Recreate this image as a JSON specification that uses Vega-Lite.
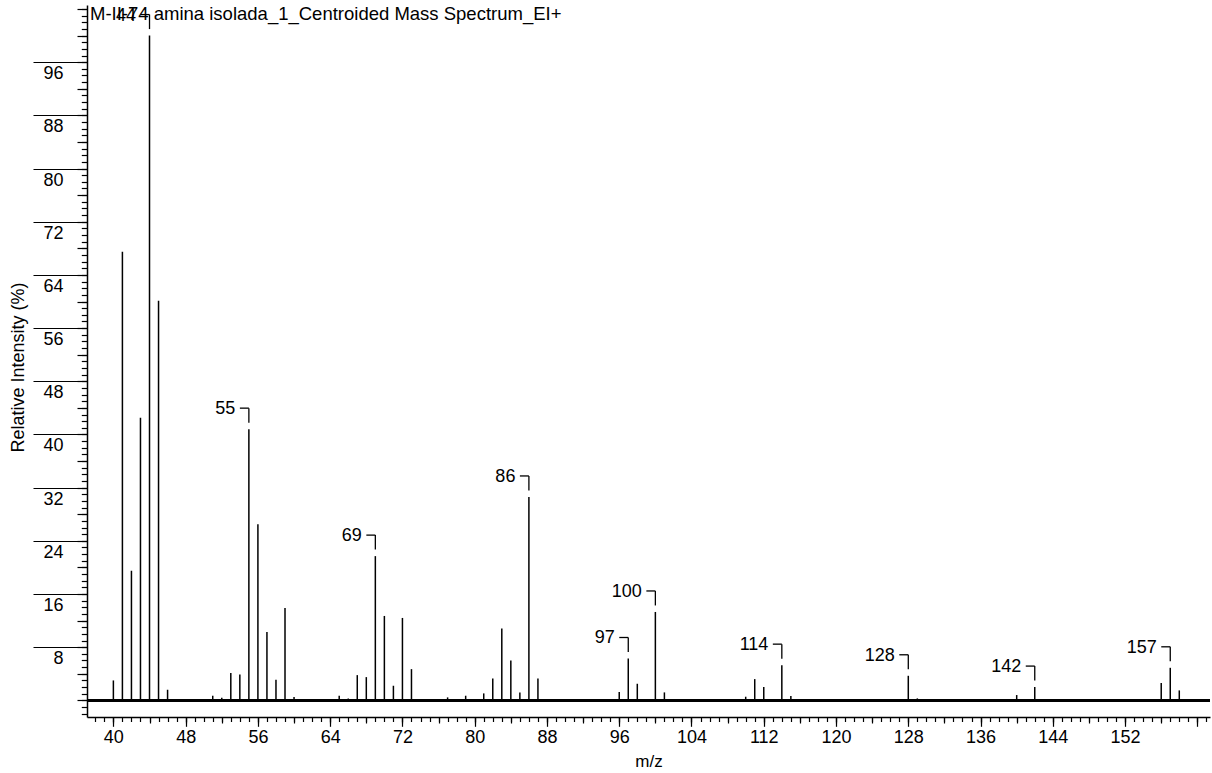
{
  "$schema": "https://vega.github.io/schema/vega-lite/v6.json",
  "autosize": {"type": "none"},
  "padding": {"left": 87, "top": 5, "right": 2, "bottom": 56},
  "width": 1123,
  "height": 712,
  "background": "white",
  "title": {
    "text": "M-II-74 amina isolada_1_Centroided Mass Spectrum_EI+",
    "anchor": "start",
    "frame": "group",
    "orient": "top",
    "offset": -18,
    "dx": 3,
    "fontSize": 18.5,
    "fontWeight": "normal",
    "color": "black",
    "font": "Liberation Sans"
  },
  "data": {
    "values": [
      {"mz": 40, "intensity": 3.0, "lab": ""},
      {"mz": 41, "intensity": 67.5, "lab": ""},
      {"mz": 42, "intensity": 19.5, "lab": ""},
      {"mz": 43, "intensity": 42.5, "lab": ""},
      {"mz": 44, "intensity": 100, "lab": "44"},
      {"mz": 45, "intensity": 60.1, "lab": ""},
      {"mz": 46, "intensity": 1.6, "lab": ""},
      {"mz": 51, "intensity": 0.7, "lab": ""},
      {"mz": 52, "intensity": 0.4, "lab": ""},
      {"mz": 53, "intensity": 4.1, "lab": ""},
      {"mz": 54, "intensity": 3.9, "lab": ""},
      {"mz": 55, "intensity": 40.8, "lab": "55"},
      {"mz": 56, "intensity": 26.5, "lab": ""},
      {"mz": 57, "intensity": 10.3, "lab": ""},
      {"mz": 58, "intensity": 3.1, "lab": ""},
      {"mz": 59, "intensity": 13.9, "lab": ""},
      {"mz": 60, "intensity": 0.5, "lab": ""},
      {"mz": 65, "intensity": 0.7, "lab": ""},
      {"mz": 66, "intensity": 0.3, "lab": ""},
      {"mz": 67, "intensity": 3.8, "lab": ""},
      {"mz": 68, "intensity": 3.5, "lab": ""},
      {"mz": 69, "intensity": 21.7, "lab": "69"},
      {"mz": 70, "intensity": 12.7, "lab": ""},
      {"mz": 71, "intensity": 2.2, "lab": ""},
      {"mz": 72, "intensity": 12.4, "lab": ""},
      {"mz": 73, "intensity": 4.7, "lab": ""},
      {"mz": 77, "intensity": 0.45, "lab": ""},
      {"mz": 79, "intensity": 0.7, "lab": ""},
      {"mz": 81, "intensity": 1.05, "lab": ""},
      {"mz": 82, "intensity": 3.3, "lab": ""},
      {"mz": 83, "intensity": 10.8, "lab": ""},
      {"mz": 84, "intensity": 6.0, "lab": ""},
      {"mz": 85, "intensity": 1.2, "lab": ""},
      {"mz": 86, "intensity": 30.6, "lab": "86"},
      {"mz": 87, "intensity": 3.3, "lab": ""},
      {"mz": 96, "intensity": 1.25, "lab": ""},
      {"mz": 97, "intensity": 6.3, "lab": "97"},
      {"mz": 98, "intensity": 2.5, "lab": ""},
      {"mz": 100, "intensity": 13.3, "lab": "100"},
      {"mz": 101, "intensity": 1.2, "lab": ""},
      {"mz": 110, "intensity": 0.55, "lab": ""},
      {"mz": 111, "intensity": 3.2, "lab": ""},
      {"mz": 112, "intensity": 2.0, "lab": ""},
      {"mz": 114, "intensity": 5.3, "lab": "114"},
      {"mz": 115, "intensity": 0.65, "lab": ""},
      {"mz": 128, "intensity": 3.7, "lab": "128"},
      {"mz": 129, "intensity": 0.3, "lab": ""},
      {"mz": 140, "intensity": 0.8, "lab": ""},
      {"mz": 142, "intensity": 2.0, "lab": "142"},
      {"mz": 156, "intensity": 2.6, "lab": ""},
      {"mz": 157, "intensity": 4.9, "lab": "157"},
      {"mz": 158, "intensity": 1.5, "lab": ""}
    ]
  },
  "resolve": {"axis": {"x": "independent", "y": "independent"}},
  "layer": [
    {
      "mark": {"type": "rule", "color": "black", "strokeWidth": 1.5},
      "encoding": {
        "x": {
          "field": "mz", "type": "quantitative",
          "scale": {"domain": [37.08, 161.4], "nice": false, "zero": false},
          "axis": {
            "orient": "bottom",
            "values": [40, 48, 56, 64, 72, 80, 88, 96, 104, 112, 120, 128, 136, 144, 152, 160],
            "labelExpr": "datum.value >= 160 ? '' : datum.label",
            "tickSize": 9.3, "tickWidth": 1.2, "tickColor": "black",
            "domain": true, "domainColor": "black", "domainWidth": 1.5,
            "grid": false,
            "labelFontSize": 18, "labelColor": "black", "labelPadding": 2,
            "labelFlush": false, "labelOverlap": false,
            "title": "m/z", "titleFontSize": 17, "titleFontWeight": "normal", "titleColor": "black",
            "titlePadding": 7
          }
        },
        "y": {
          "field": "intensity", "type": "quantitative",
          "scale": {"domain": [-2.5, 104.6], "nice": false, "zero": false},
          "axis": {
            "orient": "left",
            "values": [8, 16, 24, 32, 40, 48, 56, 64, 72, 80, 88, 96],
            "tickSize": 54, "tickWidth": 1.2, "tickColor": "black",
            "domain": true, "domainColor": "black", "domainWidth": 1.5,
            "grid": false,
            "labelFontSize": 18, "labelColor": "black",
            "labelBaseline": "top", "labelAlign": "right",
            "labelPadding": -30, "labelOffset": 2.5,
            "labelFlush": false, "labelOverlap": false, "labelBound": false,
            "title": "Relative Intensity (%)", "titleFontSize": 18, "titleFontWeight": "normal", "titleColor": "black",
            "titlePadding": 5, "titleY": 362
          }
        },
        "y2": {"datum": 0}
      }
    },
    {
      "mark": {"type": "point", "opacity": 0},
      "encoding": {
        "x": {
          "field": "mz", "type": "quantitative",
          "axis": {
            "orient": "bottom",
            "values": [38,39,40,41,42,43,44,45,46,47,48,49,50,51,52,53,54,55,56,57,58,59,60,61,62,63,64,65,66,67,68,69,70,71,72,73,74,75,76,77,78,79,80,81,82,83,84,85,86,87,88,89,90,91,92,93,94,95,96,97,98,99,100,101,102,103,104,105,106,107,108,109,110,111,112,113,114,115,116,117,118,119,120,121,122,123,124,125,126,127,128,129,130,131,132,133,134,135,136,137,138,139,140,141,142,143,144,145,146,147,148,149,150,151,152,153,154,155,156,157,158,159,160,161],
            "tickSize": 4.5, "tickWidth": 1.2, "tickColor": "black",
            "domain": false, "grid": false, "labels": false, "title": null
          }
        },
        "y": {
          "field": "intensity", "type": "quantitative",
          "axis": {
            "orient": "left",
            "values": [-2,-1,0,1,2,3,4,5,6,7,8,9,10,11,12,13,14,15,16,17,18,19,20,21,22,23,24,25,26,27,28,29,30,31,32,33,34,35,36,37,38,39,40,41,42,43,44,45,46,47,48,49,50,51,52,53,54,55,56,57,58,59,60,61,62,63,64,65,66,67,68,69,70,71,72,73,74,75,76,77,78,79,80,81,82,83,84,85,86,87,88,89,90,91,92,93,94,95,96,97,98,99,100,101,102,103,104],
            "tickSize": 5.7, "tickWidth": 1.2, "tickColor": "black",
            "domain": false, "grid": false, "labels": false, "title": null
          }
        }
      }
    },
    {
      "mark": {"type": "point", "opacity": 0},
      "encoding": {
        "x": {
          "field": "mz", "type": "quantitative",
          "axis": {
            "orient": "bottom",
            "values": [40,44,48,52,56,60,64,68,72,76,80,84,88,92,96,100,104,108,112,116,120,124,128,132,136,140,144,148,152,156,160],
            "tickSize": 6, "tickWidth": 1.2, "tickColor": "black",
            "domain": false, "grid": false, "labels": false, "title": null
          }
        },
        "y": {
          "field": "intensity", "type": "quantitative",
          "axis": {
            "orient": "left",
            "values": [0,4,8,12,16,20,24,28,32,36,40,44,48,52,56,60,64,68,72,76,80,84,88,92,96,100,104],
            "tickSize": 10, "tickWidth": 1.2, "tickColor": "black",
            "domain": false, "grid": false, "labels": false, "title": null
          }
        }
      }
    },
    {
      "mark": {"type": "rule", "color": "black", "strokeWidth": 1.5},
      "encoding": {
        "y": {"datum": 0, "type": "quantitative", "axis": null}
      }
    },
    {
      "transform": [{"filter": "datum.lab != ''"}],
      "mark": {"type": "rule", "color": "black", "strokeWidth": 1.3, "xOffset": -9, "x2Offset": 0, "yOffset": -21},
      "encoding": {
        "x": {"field": "mz", "type": "quantitative", "axis": null},
        "x2": {"field": "mz"},
        "y": {"field": "intensity", "type": "quantitative", "axis": null}
      }
    },
    {
      "transform": [{"filter": "datum.lab != ''"}],
      "mark": {"type": "rule", "color": "black", "strokeWidth": 1.3, "yOffset": -21, "y2Offset": -6.5},
      "encoding": {
        "x": {"field": "mz", "type": "quantitative", "axis": null},
        "y": {"field": "intensity", "type": "quantitative", "axis": null},
        "y2": {"field": "intensity"}
      }
    },
    {
      "transform": [{"filter": "datum.lab != ''"}],
      "mark": {"type": "text", "align": "right", "baseline": "alphabetic", "dx": -13.5, "dy": -15, "fontSize": 18, "color": "black", "font": "Liberation Sans"},
      "encoding": {
        "x": {"field": "mz", "type": "quantitative", "axis": null},
        "y": {"field": "intensity", "type": "quantitative", "axis": null},
        "text": {"field": "lab"}
      }
    }
  ],
  "config": {
    "font": "Liberation Sans",
    "view": {"stroke": null},
    "axis": {"labelFont": "Liberation Sans", "titleFont": "Liberation Sans"}
  }
}
